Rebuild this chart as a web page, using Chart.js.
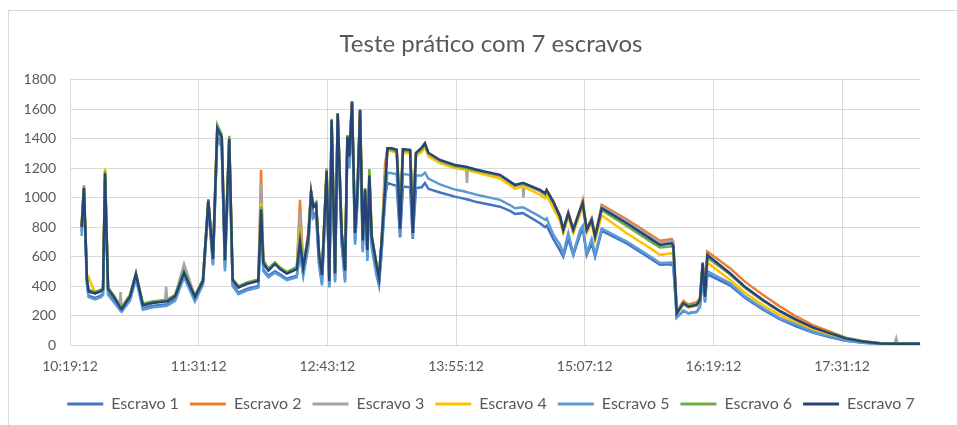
<!DOCTYPE html>
<html>
<head>
<meta charset="utf-8">
<script src="https://cdn.jsdelivr.net/npm/chart.js@4.4.1/dist/chart.umd.min.js"></script>
<style>
  html, body { margin: 0; padding: 0; background: #fff; }
  #frame { position: absolute; left: 8px; top: 10px; width: 960px; height: 430px; border: 1px solid #d9d9d9; }
  #wrap { position: absolute; left: 0; top: 0; width: 957px; height: 425px; }
</style>
</head>
<body>
<div id="frame"></div>
<div id="wrap"><canvas id="myChart" width="957" height="425"></canvas></div>
<script>
// minutes after 10:19:12
const minutes = [6.5, 7.8, 9.5, 10.4, 14.0, 17.3, 18.5, 19.6, 21.3, 24.6, 27.8, 28.3, 28.9, 33.6, 36.9, 40.8, 45.9, 53.2, 53.8, 54.4, 58.8, 63.8, 69.9, 74.4, 77.4, 80.0, 82.4, 84.9, 86.7, 89.1, 91.0, 94.2, 98.9, 105.4, 106.9, 108.2, 111.0, 114.7, 117.5, 121.3, 126.9, 128.7, 130.5, 133.3, 134.9, 136.1, 137.7, 139.3, 141.0, 143.6, 145.1, 146.4, 148.3, 149.8, 152.0, 153.9, 155.2, 156.3, 157.8, 159.5, 160.8, 162.3, 163.8, 165.1, 166.4, 167.5, 168.8, 171.6, 172.9, 174.4, 176.3, 177.6, 180.0, 182.8, 184.7, 186.3, 190.3, 191.8, 193.6, 196.8, 198.6, 200.5, 207.0, 215.4, 221.6, 222.1, 222.6, 227.6, 240.6, 246.2, 249.0, 253.2, 253.7, 254.2, 263.0, 265.8, 266.7, 270.4, 274.2, 276.0, 278.8, 281.6, 285.4, 286.9, 289.1, 291.9, 293.8, 297.5, 311.5, 324.5, 330.1, 336.7, 337.6, 339.5, 343.2, 346.0, 350.7, 352.5, 354.0, 355.3, 356.6, 369.3, 377.6, 387.8, 397.1, 406.6, 415.6, 425.3, 434.1, 443.7, 453.3, 461.5, 462.3, 463.1, 475.6]

const escravo1 = [770, 1040, 420, 335, 320, 335, 350, 1130, 350, 300, 250, 240, 235, 310, 460, 250, 265, 275, 275, 278, 310, 470, 305, 420, 950, 550, 1420, 1360, 520, 1350, 410, 355, 380, 400, 880, 510, 470, 500, 480, 450, 470, 640, 480, 680, 980, 880, 900, 560, 420, 1120, 400, 1480, 440, 1520, 700, 440, 1360, 1220, 1600, 700, 970, 1540, 650, 990, 590, 1090, 680, 480, 420, 650, 1000, 1100, 1090, 1080, 730, 1075, 1070, 720, 1065, 1070, 1100, 1060, 1035, 1007, 990, 988, 987, 970, 939, 910, 890, 895, 893, 890, 826, 800, 810, 720, 640, 600, 720, 610, 750, 790, 610, 690, 600, 775, 690, 590, 545, 548, 530, 190, 230, 215, 225, 260, 470, 290, 480, 405, 320, 240, 175, 125, 85, 52, 28, 15, 8, 7, 7, 7, 6]
const escravo2 = [800, 1070, 450, 365, 350, 365, 380, 1165, 380, 330, 265, 255, 250, 335, 480, 270, 285, 300, 300, 302, 335, 495, 330, 440, 980, 585, 1470, 1410, 575, 1400, 440, 390, 415, 440, 1190, 560, 510, 555, 520, 490, 520, 985, 530, 760, 1040, 945, 965, 630, 485, 1180, 445, 1525, 490, 1570, 765, 510, 1415, 1340, 1650, 765, 1035, 1595, 715, 1060, 650, 1160, 740, 540, 455, 715, 1230, 1335, 1330, 1320, 920, 1325, 1320, 940, 1300, 1330, 1360, 1300, 1250, 1215, 1205, 1203, 1201, 1185, 1150, 1105, 1085, 1098, 1097, 1095, 1050, 1025, 1050, 975, 880, 790, 900, 790, 920, 985, 790, 860, 740, 951, 853, 752, 708, 718, 700, 225, 300, 275, 290, 320, 560, 340, 634, 521, 430, 340, 262, 192, 135, 90, 50, 25, 12, 10, 10, 10, 9]
const escravo3 = [800, 1060, 440, 365, 350, 365, 380, 1160, 380, 330, 260, 360, 250, 335, 480, 270, 285, 300, 395, 302, 335, 550, 330, 440, 980, 585, 1460, 1400, 575, 1395, 440, 390, 415, 440, 1100, 560, 510, 555, 520, 490, 520, 900, 530, 740, 1030, 940, 960, 625, 480, 1175, 440, 1520, 485, 1565, 760, 505, 1410, 1300, 1645, 760, 1030, 1590, 710, 1055, 645, 1155, 735, 535, 455, 710, 1150, 1330, 1325, 1315, 850, 1320, 1315, 870, 1295, 1325, 1355, 1295, 1245, 1210, 1200, 1100, 1197, 1180, 1145, 1100, 1080, 1093, 1000, 1090, 1045, 1020, 1045, 965, 870, 780, 890, 780, 910, 960, 780, 850, 730, 940, 840, 740, 695, 705, 690, 215, 290, 265, 280, 310, 560, 335, 590, 480, 390, 300, 228, 165, 117, 78, 43, 22, 11, 9, 45, 9, 8]
const escravo4 = [810, 1085, 450, 460, 355, 370, 385, 1200, 385, 335, 270, 260, 255, 340, 485, 275, 290, 305, 305, 307, 340, 500, 335, 445, 985, 590, 1480, 1420, 580, 1405, 445, 395, 420, 445, 960, 570, 515, 560, 525, 495, 525, 800, 535, 720, 1045, 950, 965, 630, 485, 1185, 445, 1525, 490, 1570, 765, 510, 1420, 1290, 1650, 765, 1035, 1595, 715, 1060, 650, 1185, 740, 540, 460, 715, 1100, 1320, 1315, 1305, 830, 1305, 1300, 850, 1285, 1310, 1345, 1280, 1235, 1200, 1190, 1188, 1186, 1170, 1130, 1085, 1060, 1075, 1074, 1072, 1020, 995, 1015, 930, 840, 760, 870, 760, 890, 930, 760, 830, 710, 880, 758, 658, 612, 622, 605, 210, 275, 255, 265, 300, 540, 330, 560, 441, 355, 270, 205, 150, 105, 68, 36, 18, 9, 8, 8, 8, 7]
const escravo5 = [740, 1020, 410, 325, 310, 325, 340, 1120, 340, 290, 240, 230, 225, 300, 450, 240, 255, 265, 265, 268, 300, 460, 295, 410, 940, 540, 1400, 1340, 500, 1330, 400, 345, 370, 390, 860, 500, 460, 490, 470, 440, 460, 620, 470, 660, 960, 860, 880, 545, 405, 1100, 390, 1460, 425, 1500, 680, 425, 1340, 1200, 1580, 680, 950, 1520, 630, 970, 570, 1070, 660, 465, 400, 630, 980, 1170, 1165, 1160, 740, 1160, 1155, 730, 1150, 1150, 1170, 1130, 1090, 1055, 1040, 1038, 1036, 1020, 985, 950, 928, 935, 933, 930, 871, 850, 860, 750, 680, 620, 760, 620, 780, 810, 625, 720, 615, 790, 702, 602, 557, 560, 545, 185, 235, 215, 225, 260, 480, 300, 500, 419, 330, 249, 182, 136, 90, 57, 30, 16, 8, 7, 7, 7, 6]
const escravo6 = [810, 1080, 450, 375, 360, 375, 390, 1185, 390, 335, 270, 260, 255, 340, 490, 280, 295, 305, 305, 307, 340, 505, 335, 445, 990, 595, 1495, 1430, 580, 1420, 450, 400, 425, 445, 940, 575, 520, 560, 525, 495, 530, 740, 540, 700, 1050, 950, 970, 635, 490, 1200, 450, 1535, 495, 1575, 770, 515, 1425, 1285, 1655, 770, 1040, 1600, 720, 1065, 655, 1195, 745, 545, 460, 720, 1080, 1330, 1325, 1315, 940, 1320, 1315, 900, 1300, 1330, 1360, 1300, 1250, 1215, 1200, 1198, 1196, 1185, 1150, 1105, 1082, 1095, 1094, 1092, 1045, 1020, 1045, 965, 870, 780, 895, 780, 915, 965, 780, 850, 735, 915, 808, 705, 662, 670, 655, 220, 290, 265, 280, 310, 560, 335, 600, 480, 390, 300, 230, 170, 120, 82, 48, 26, 13, 11, 11, 11, 10]
const escravo7 = [800, 1065, 440, 365, 350, 365, 380, 1165, 380, 325, 260, 250, 245, 330, 480, 270, 285, 295, 295, 297, 330, 490, 325, 435, 980, 585, 1470, 1410, 575, 1400, 440, 390, 415, 435, 920, 555, 505, 550, 515, 485, 515, 700, 525, 730, 1035, 935, 955, 620, 475, 1180, 435, 1525, 485, 1570, 760, 505, 1415, 1280, 1650, 760, 1030, 1595, 710, 1055, 645, 1150, 735, 535, 455, 710, 1060, 1335, 1335, 1325, 790, 1330, 1325, 760, 1305, 1340, 1370, 1305, 1256, 1222, 1210, 1208, 1206, 1189, 1155, 1109, 1087, 1100, 1099, 1097, 1053, 1030, 1053, 973, 871, 781, 894, 781, 917, 962, 781, 849, 735, 928, 826, 724, 679, 690, 670, 215, 283, 260, 272, 306, 555, 328, 611, 487, 396, 306, 231, 170, 120, 79, 45, 23, 11, 9, 9, 9, 8]

const seriesNames = ["Escravo 1", "Escravo 2", "Escravo 3", "Escravo 4", "Escravo 5", "Escravo 6", "Escravo 7"]
const seriesValues = [escravo1, escravo2, escravo3, escravo4, escravo5, escravo6, escravo7]
const seriesColors = ["#4472C4", "#ED7D31", "#A5A5A5", "#FFC000", "#5B9BD5", "#70AD47", "#264478"]

const tickMinutes = [0, 72, 144, 216, 288, 360, 432]
const tickLabels = ["10:19:12", "11:31:12", "12:43:12", "13:55:12", "15:07:12", "16:19:12", "17:31:12"]

const textColor = "#595959"
const gridColor = "#d9d9d9"
Chart.defaults.font.family = "Lato, 'Liberation Sans', sans-serif"

const ctx = document.getElementById("myChart")
const myChart = new Chart(ctx, {
  type: "line",
  data: {
    datasets: seriesNames.map((name, i) => ({
      label: name,
      data: minutes.map((m, j) => ({ x: m, y: seriesValues[i][j] })),
      borderColor: seriesColors[i],
      backgroundColor: seriesColors[i],
      borderWidth: 2.5,
      pointRadius: 0,
      tension: 0,
      order: seriesNames.length - i, // later series on top, like Excel
    })),
  },
  options: {
    responsive: false,
    animation: false,
    layout: { padding: { top: 10, right: 0, bottom: 3, left: 25 } },
    scales: {
      x: {
        type: "linear",
        min: 0,
        max: 475.6,
        afterBuildTicks: (scale) => {
          scale.ticks = tickMinutes.map((v) => ({ value: v }))
        },
        afterFit: (scale) => {
          scale.height = 40
        },
        ticks: {
          color: textColor,
          font: { size: 14 },
          padding: 13,
          maxRotation: 0,
          autoSkip: false,
          callback: (value, index) => tickLabels[index],
        },
        grid: { color: gridColor, drawTicks: false },
        border: { color: gridColor },
      },
      y: {
        min: 0,
        max: 1800,
        afterFit: (scale) => {
          scale.width = 45
        },
        ticks: {
          stepSize: 200,
          color: textColor,
          font: { size: 14 },
          padding: 14,
          callback: (value) => value,
        },
        grid: { color: gridColor, drawTicks: false },
        border: { display: false },
      },
      // empty right axis, only keeps the plot clear of the right edge
      y2: {
        type: "linear",
        position: "right",
        afterFit: (scale) => {
          scale.width = 37
        },
        ticks: { display: false },
        grid: { display: false },
        border: { display: false },
      },
    },
    plugins: {
      title: {
        display: true,
        text: "Teste prático com 7 escravos",
        color: textColor,
        font: { size: 24, weight: "normal" },
        padding: { top: 20, bottom: 21 },
      },
      legend: {
        position: "bottom",
        labels: {
          color: textColor,
          font: { size: 16 },
          boxWidth: 36,
          boxHeight: 3,
          padding: 11,
          generateLabels: (chart) =>
            Chart.defaults.plugins.legend.labels
              .generateLabels(chart)
              .map((l) => ({ ...l, lineWidth: 0 }))
              .sort((a, b) => a.datasetIndex - b.datasetIndex),
        },
      },
      tooltip: { enabled: false },
    },
  },
})
</script>
</body>
</html>
